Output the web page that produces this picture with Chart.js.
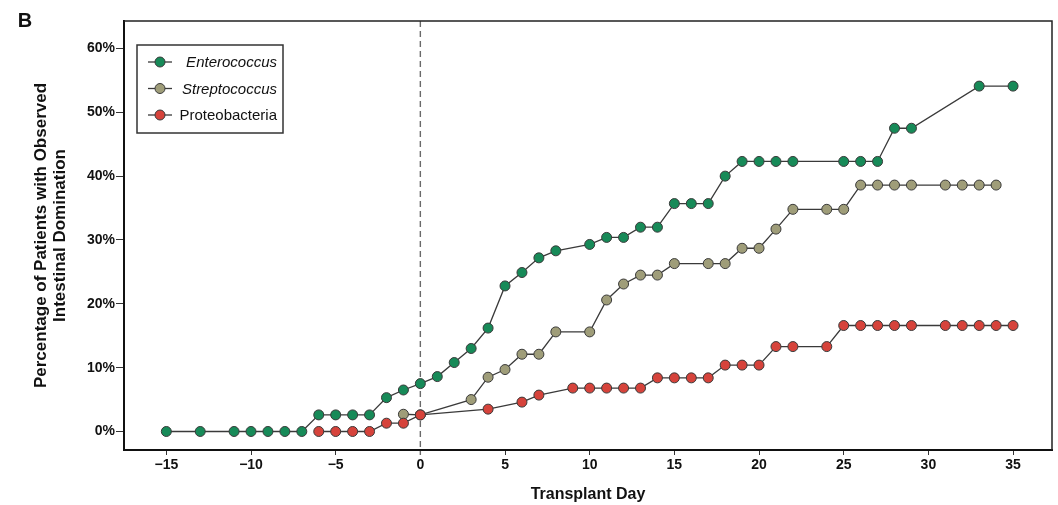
<!DOCTYPE html>
<html><head><meta charset="utf-8">
<script src="https://cdn.jsdelivr.net/npm/chart.js@4"></script>
<style>html,body{margin:0;padding:0;background:#fff}#wrap{width:1058px;height:505px;position:relative}</style>
</head><body><div id="wrap"><canvas id="c" width="1058" height="505"></canvas></div>
<script>
const seriesNames = ['Enterococcus', 'Streptococcus', 'Proteobacteria'];
const legendItalic = [true, true, false];
const seriesColors = ['#178a58', '#9f9d79', '#d6433b'];

const entDays = [-15,-13,-11,-10,-9,-8,-7,-6,-5,-4,-3,-2,-1,0,1,2,3,4,5,6,7,8,10,11,12,13,14,15,16,17,18,19,20,21,22,25,26,27,28,29,33,35];
const entVals = [0,0,0,0,0,0,0,2.6,2.6,2.6,2.6,5.3,6.5,7.5,8.6,10.8,13.0,16.2,22.8,24.9,27.2,28.3,29.3,30.4,30.4,32.0,32.0,35.7,35.7,35.7,40.0,42.3,42.3,42.3,42.3,42.3,42.3,42.3,47.5,47.5,54.1,54.1];

const strDays = [-1,0,3,4,5,6,7,8,10,11,12,13,14,15,17,18,19,20,21,22,24,25,26,27,28,29,31,32,33,34];
const strVals = [2.7,2.6,5.0,8.5,9.7,12.1,12.1,15.6,15.6,20.6,23.1,24.5,24.5,26.3,26.3,26.3,28.7,28.7,31.7,34.8,34.8,34.8,38.6,38.6,38.6,38.6,38.6,38.6,38.6,38.6];

const proDays = [-6,-5,-4,-3,-2,-1,0,4,6,7,9,10,11,12,13,14,15,16,17,18,19,20,21,22,24,25,26,27,28,29,31,32,33,34,35];
const proVals = [0,0,0,0,1.3,1.3,2.6,3.5,4.6,5.7,6.8,6.8,6.8,6.8,6.8,8.4,8.4,8.4,8.4,10.4,10.4,10.4,13.3,13.3,13.3,16.6,16.6,16.6,16.6,16.6,16.6,16.6,16.6,16.6,16.6];

const xTicks = [-15,-10,-5,0,5,10,15,20,25,30,35];
const yTicks = [0,10,20,30,40,50,60];

const xTitle = 'Transplant Day';
const yTitle = ['Percentage of Patients with Observed', 'Intestinal Domination'];
const panelLabel = 'B';

const FONT = '"Liberation Sans", Arial, Helvetica, sans-serif';

function pts(days, vals) { return days.map((d, i) => ({x: d, y: vals[i]})); }
const allDays = [entDays, strDays, proDays];
const allVals = [entVals, strVals, proVals];

const datasets = seriesNames.map((name, i) => ({
  label: name,
  data: pts(allDays[i], allVals[i]),
  borderColor: '#3a3a3a',
  borderWidth: 1.3,
  pointRadius: 5,
  pointHoverRadius: 5,
  pointBackgroundColor: seriesColors[i],
  pointBorderColor: '#3a3a3a',
  pointBorderWidth: 1,
  tension: 0,
  fill: false,
  order: 3 - i
}));

const decor = {
  id: 'decor',
  beforeDraw(chart) {
    const c = chart.ctx;
    c.save(); c.fillStyle = '#fff'; c.fillRect(0, 0, chart.width, chart.height); c.restore();
  },
  beforeDatasetsDraw(chart) {
    const c = chart.ctx, ca = chart.chartArea, x0 = chart.scales.x.getPixelForValue(0);
    c.save();
    c.strokeStyle = '#6a6a6a'; c.lineWidth = 1.4; c.setLineDash([6, 4]);
    c.beginPath(); c.moveTo(x0, ca.top); c.lineTo(x0, ca.bottom + 5); c.stroke();
    c.restore();
  },
  afterDraw(chart) {
    const c = chart.ctx, ca = chart.chartArea;
    c.save();
    c.strokeStyle = '#222'; c.lineWidth = 1.5;
    c.beginPath(); c.moveTo(ca.left, ca.top); c.lineTo(ca.right, ca.top); c.lineTo(ca.right, ca.bottom); c.stroke();
    const cy = (ca.top + ca.bottom) / 2;
    c.fillStyle = '#111';
    c.translate(41, cy); c.rotate(-Math.PI / 2);
    c.textAlign = 'center'; c.textBaseline = 'middle';
    c.font = 'bold 17px ' + FONT;
    c.fillText(yTitle[0], 0, 0);
    c.fillText(yTitle[1], 0, 19.5);
    c.setTransform(1, 0, 0, 1, 0, 0);
    c.font = 'bold 20px ' + FONT; c.textAlign = 'center'; c.textBaseline = 'middle';
    c.fillText(panelLabel, 25, 21);
    const lx = ca.left + 13, ly = ca.top + 24, lw = 146, lh = 88;
    c.fillStyle = '#fff'; c.fillRect(lx, ly, lw, lh);
    c.strokeStyle = '#333'; c.lineWidth = 1.5; c.strokeRect(lx, ly, lw, lh);
    chart.data.datasets.forEach((ds, i) => {
      const y = ly + 17 + i * 26.5;
      const mx = lx + 23;
      c.strokeStyle = '#3a3a3a'; c.lineWidth = 1.3;
      c.beginPath(); c.moveTo(mx - 12, y); c.lineTo(mx + 12, y); c.stroke();
      c.beginPath(); c.arc(mx, y, 5, 0, Math.PI * 2);
      c.fillStyle = ds.pointBackgroundColor; c.fill();
      c.lineWidth = 1; c.strokeStyle = '#3a3a3a'; c.stroke();
      c.fillStyle = '#111';
      c.font = (legendItalic[i] ? 'italic ' : '') + '15px ' + FONT;
      c.textAlign = 'right'; c.textBaseline = 'middle';
      c.fillText(ds.label, lx + lw - 6, y + 1);
    });
    c.restore();
  }
};

new Chart(document.getElementById('c'), {
  type: 'line',
  data: { datasets },
  plugins: [decor],
  options: {
    responsive: false,
    animation: false,
    devicePixelRatio: 1,
    layout: { padding: { top: 21, right: 4, left: 0, bottom: 0 } },
    plugins: { legend: { display: false }, tooltip: { enabled: false } },
    scales: {
      x: {
        type: 'linear', min: -17.5, max: 37.3,
        afterBuildTicks: s => { s.ticks = xTicks.map(v => ({ value: v })); },
        afterFit: s => { s.height = 55; },
        grid: { drawOnChartArea: false, drawTicks: true, tickLength: 5, color: '#333', tickWidth: 1 },
        border: { display: true, color: '#111', width: 2 },
        ticks: { color: '#111', font: { family: FONT, size: 14, weight: 'bold' }, padding: 2,
          maxRotation: 0, autoSkip: false,
          callback: v => v < 0 ? '\u2212' + Math.abs(v) : String(v) },
        title: { display: true, text: xTitle, color: '#111', font: { family: FONT, size: 16, weight: 'bold' }, padding: { top: 0, bottom: 1 } }
      },
      y: {
        type: 'linear', min: -2.9, max: 64.3,
        afterBuildTicks: s => { s.ticks = yTicks.map(v => ({ value: v })); },
        afterFit: s => { s.width = 124; },
        grid: { drawOnChartArea: false, drawTicks: true, tickLength: 8, color: '#333', tickWidth: 1 },
        border: { display: true, color: '#111', width: 2 },
        ticks: { color: '#111', font: { family: FONT, size: 14, weight: 'bold' }, padding: 1,
          callback: v => v + '%' }
      }
    }
  }
});
</script></body></html>
